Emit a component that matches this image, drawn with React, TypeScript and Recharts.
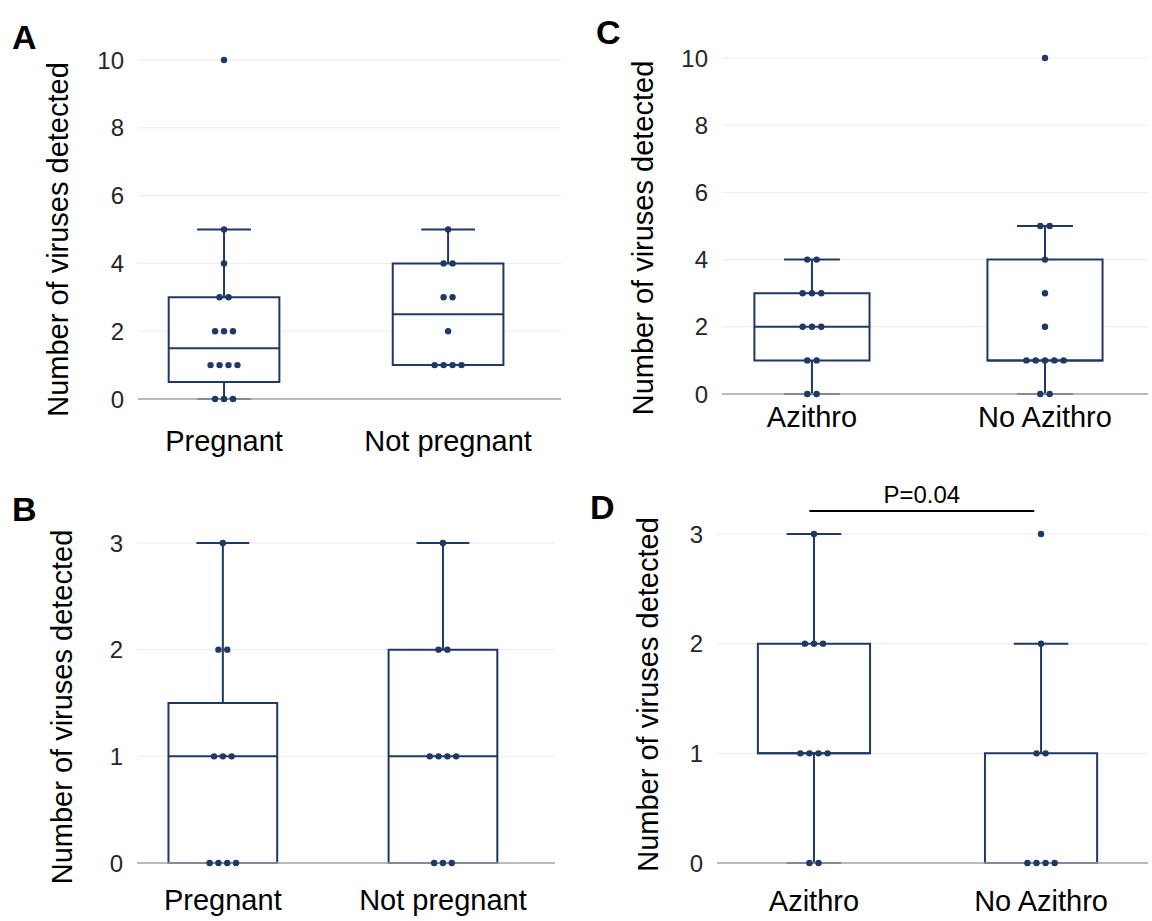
import React from 'react';
import {
  ComposedChart,
  XAxis,
  YAxis,
  CartesianGrid,
  Scatter,
  ReferenceArea,
  ReferenceLine
} from 'recharts';

const FONT = '"Liberation Sans", Arial, Helvetica, sans-serif';
const NAVY = '#1f3864';
const Y_TITLE = 'Number of viruses detected';

const pregnancyGroups = ['Pregnant', 'Not pregnant'];
const azithroGroups = ['Azithro', 'No Azithro'];

// A: viruses detected, by pregnancy status
const pregnantA = [0, 0, 0, 1, 1, 1, 1, 2, 2, 2, 3, 3, 4, 5, 10];
const notPregnantA = [1, 1, 1, 1, 2, 3, 3, 4, 4, 5];
// box stats: min, q1, median, q3, max (whisker ends)
const pregnantBoxA = [0, 0.5, 1.5, 3, 5];
const notPregnantBoxA = [1, 1, 2.5, 4, 5];

// B
const pregnantB = [0, 0, 0, 0, 1, 1, 1, 2, 2, 3];
const notPregnantB = [0, 0, 0, 1, 1, 1, 1, 2, 2, 3];
const pregnantBoxB = [0, 0, 1, 1.5, 3];
const notPregnantBoxB = [0, 0, 1, 2, 3];

// C: viruses detected, by azithromycin
const azithroC = [0, 0, 1, 1, 2, 2, 2, 3, 3, 3, 4, 4];
const noAzithroC = [0, 0, 1, 1, 1, 1, 1, 2, 3, 4, 5, 5, 10];
const azithroBoxC = [0, 1, 2, 3, 4];
const noAzithroBoxC = [0, 1, 1, 4, 5];

// D
const azithroD = [0, 0, 1, 1, 1, 1, 2, 2, 2, 3];
const noAzithroD = [0, 0, 0, 0, 1, 1, 2, 3];
const azithroBoxD = [0, 1, 1, 2, 3];
const noAzithroBoxD = [0, 0, 0, 1, 2];

const ticksWide = [0, 2, 4, 6, 8, 10];
const ticksNarrow = [0, 1, 2, 3];

const pValueD = 'P=0.04';

const BOX_HALF = 0.247;
const CAP_HALF = 0.12;
const JITTER = 0.04;

function spread(values: number[], center: number) {
  const counts: Record<number, number> = {};
  values.forEach(v => { counts[v] = (counts[v] || 0) + 1; });
  const seen: Record<number, number> = {};
  return values.map(v => {
    const k = seen[v] || 0;
    seen[v] = k + 1;
    return { x: center + (k - (counts[v] - 1) / 2) * JITTER, y: v };
  });
}

const yTitle = (x: number, dy: number) => (props: any) => {
  const vb = props.viewBox || {};
  const cy = (vb.y ?? 0) + (vb.height ?? 0) / 2 + dy;
  return (
    <text
      x={x}
      y={cy}
      transform={`rotate(-90, ${x}, ${cy})`}
      textAnchor="middle"
      dominantBaseline="central"
      fontSize={29}
      fontFamily={FONT}
      fill="#000"
    >
      {Y_TITLE}
    </text>
  );
};

interface PanelProps {
  groups: string[];
  values: number[][];
  boxes: number[][];
  yTicks: number[];
  left: number;
  top: number;
  width: number;
  height: number;
  plotLeft: number;
  plotRight: number;
  plotTop: number;
  plotBottom: number;
  xDomain: [number, number];
  titleX: number;
  titleDy: number;
  catMargin: number;
  bracket?: { from: number; to: number; y: number; label: string };
}

const BoxPanel = (p: PanelProps) => {
  const bottomSpace = p.height - p.plotBottom;
  const points = p.values.flatMap((vals, i) => spread(vals, i));
  const yMax = p.yTicks[p.yTicks.length - 1];

  return (
    <div style={{ position: 'absolute', left: p.left, top: p.top }}>
      <ComposedChart
        width={p.width}
        height={p.height}
        margin={{ top: p.plotTop, right: p.width - p.plotRight, bottom: bottomSpace - 50, left: 0 }}
      >
        <CartesianGrid vertical={false} stroke="#ececec" strokeWidth={1} />
        <XAxis
          type="number"
          dataKey="x"
          domain={p.xDomain}
          ticks={[0, 1]}
          interval={0}
          allowDataOverflow
          tickFormatter={(i: number) => p.groups[i]}
          tickLine={false}
          tickSize={0}
          tickMargin={p.catMargin}
          height={50}
          axisLine={{ stroke: '#a6a6a6', strokeWidth: 1.5 }}
          tick={{ fontSize: 29, fill: '#000', fontFamily: FONT }}
        />
        <YAxis
          type="number"
          domain={[0, yMax]}
          ticks={p.yTicks}
          interval={0}
          width={p.plotLeft}
          axisLine={false}
          tickLine={false}
          tickSize={0}
          tickMargin={14}
          tick={{ fontSize: 24, fill: '#262626', fontFamily: FONT }}
          label={{ content: yTitle(p.titleX, p.titleDy) }}
        />
        {p.boxes.map(([, q1, , q3], i) => (
          <ReferenceArea
            key={`box-${i}`}
            x1={i - BOX_HALF}
            x2={i + BOX_HALF}
            y1={q1}
            y2={q3}
            fill="#fff"
            fillOpacity={1}
            stroke={NAVY}
            strokeWidth={2}
            ifOverflow="visible"
          />
        ))}
        {p.boxes.flatMap(([min, q1, med, q3, max], i) => {
          const segs: { x: number; y: number }[][] = [];
          segs.push([{ x: i - BOX_HALF, y: med }, { x: i + BOX_HALF, y: med }]);
          if (min < q1) {
            segs.push([{ x: i, y: min }, { x: i, y: q1 }]);
            segs.push([{ x: i - CAP_HALF, y: min }, { x: i + CAP_HALF, y: min }]);
          }
          if (max > q3) {
            segs.push([{ x: i, y: q3 }, { x: i, y: max }]);
            segs.push([{ x: i - CAP_HALF, y: max }, { x: i + CAP_HALF, y: max }]);
          }
          return segs.map((s, k) => (
            <ReferenceLine
              key={`seg-${i}-${k}`}
              segment={s}
              stroke={NAVY}
              strokeWidth={2}
              ifOverflow="visible"
            />
          ));
        })}
        {p.bracket && (
          <ReferenceLine
            segment={[
              { x: p.bracket.from, y: p.bracket.y },
              { x: p.bracket.to, y: p.bracket.y }
            ]}
            stroke="#000"
            strokeWidth={2}
            ifOverflow="visible"
            label={{
              value: p.bracket.label,
              position: 'top',
              offset: 8,
              fontSize: 24,
              fill: '#000',
              fontFamily: FONT
            }}
          />
        )}
        <Scatter
          data={points}
          dataKey="y"
          isAnimationActive={false}
          shape={(s: any) => <circle cx={s.cx} cy={s.cy} r={3.2} fill={NAVY} />}
        />
      </ComposedChart>
    </div>
  );
};

const letterStyle: React.CSSProperties = {
  position: 'absolute',
  fontFamily: FONT,
  fontWeight: 700,
  fontSize: 34,
  lineHeight: '34px',
  color: '#000'
};

export default function App() {
  return (
    <div style={{ position: 'absolute', left: 0, top: 0, width: 1152, height: 921, background: '#fff', overflow: 'hidden' }}>
      <BoxPanel
        groups={pregnancyGroups}
        values={[pregnantA, notPregnantA]}
        boxes={[pregnantBoxA, notPregnantBoxA]}
        yTicks={ticksWide}
        left={0} top={0} width={576} height={460}
        plotLeft={138} plotRight={561} plotTop={60} plotBottom={399}
        xDomain={[-0.384, 1.504]}
        titleX={58} titleDy={10}
        catMargin={31}
      />
      <BoxPanel
        groups={pregnancyGroups}
        values={[pregnantB, notPregnantB]}
        boxes={[pregnantBoxB, notPregnantBoxB]}
        yTicks={ticksNarrow}
        left={0} top={460} width={576} height={461}
        plotLeft={137} plotRight={555} plotTop={83} plotBottom={403}
        xDomain={[-0.39, 1.509]}
        titleX={62} titleDy={4}
        catMargin={26}
      />
      <BoxPanel
        groups={azithroGroups}
        values={[azithroC, noAzithroC]}
        boxes={[azithroBoxC, noAzithroBoxC]}
        yTicks={ticksWide}
        left={576} top={0} width={576} height={460}
        plotLeft={146} plotRight={572} plotTop={58} plotBottom={394}
        xDomain={[-0.386, 1.442]}
        titleX={67} titleDy={12}
        catMargin={12}
      />
      <BoxPanel
        groups={azithroGroups}
        values={[azithroD, noAzithroD]}
        boxes={[azithroBoxD, noAzithroBoxD]}
        yTicks={ticksNarrow}
        left={576} top={460} width={576} height={461}
        plotLeft={141} plotRight={572} plotTop={74} plotBottom={403}
        xDomain={[-0.427, 1.471]}
        titleX={72} titleDy={-4}
        catMargin={27}
        bracket={{ from: -0.02, to: 0.97, y: 3.21, label: pValueD }}
      />
      <div style={{ ...letterStyle, left: 12, top: 20 }}>A</div>
      <div style={{ ...letterStyle, left: 12, top: 492 }}>B</div>
      <div style={{ ...letterStyle, left: 596, top: 15 }}>C</div>
      <div style={{ ...letterStyle, left: 590, top: 490 }}>D</div>
    </div>
  );
}
